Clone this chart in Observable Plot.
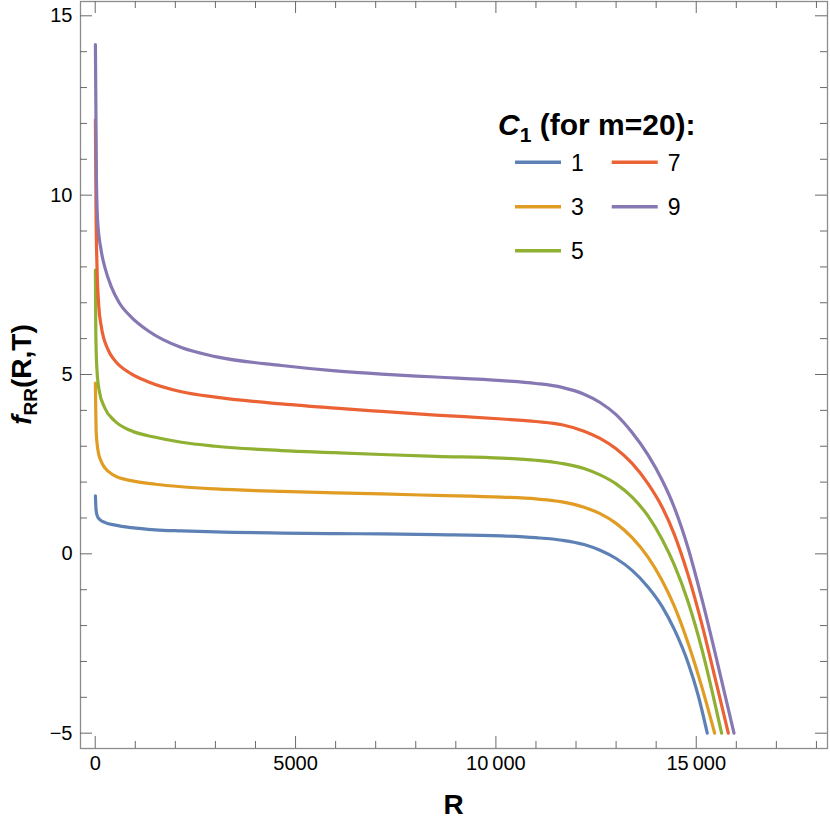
<!DOCTYPE html>
<html>
<head>
<meta charset="utf-8">
<script src="https://cdn.jsdelivr.net/npm/d3@7"></script>
<script src="https://cdn.jsdelivr.net/npm/@observablehq/plot@0.6"></script>
<style>
  html, body { margin: 0; padding: 0; background: #fff; }
  #chart { width: 830px; height: 824px; }
</style>
</head>
<body>
<div id="chart"></div>
<script>
// ---- data ----
const c1Values = [1, 3, 5, 7, 9];
const seriesColors = ["#5E81B5", "#E19C24", "#8FB032", "#EB6235", "#8778B3"];

const R_c1_1 = [5, 20, 45, 100, 250, 500, 900, 1500, 2150, 3000, 4650, 6000, 7150, 8500, 10150, 11000, 11650, 12200, 12600, 13000, 13400, 13800, 14150, 14450, 14800, 15050, 15275];
const F_c1_1 = [1.62, 1.25, 1.08, 0.97, 0.87, 0.80, 0.73, 0.67, 0.64, 0.61, 0.58, 0.565, 0.555, 0.535, 0.50, 0.45, 0.38, 0.26, 0.10, -0.13, -0.46, -0.93, -1.47, -2.1, -3.05, -3.95, -5.0];

const R_c1_3 = [5, 25, 70, 140, 233, 483, 900, 1500, 2150, 3000, 4650, 6000, 7150, 8500, 10150, 11000, 11650, 12200, 12600, 13000, 13400, 13800, 14150, 14450, 14800, 15150, 15460];
const F_c1_3 = [4.76, 3.4, 2.88, 2.6, 2.41, 2.18, 2.04, 1.94, 1.87, 1.81, 1.74, 1.70, 1.67, 1.63, 1.58, 1.53, 1.45, 1.3, 1.12, 0.85, 0.45, -0.1, -0.75, -1.45, -2.5, -3.75, -5.0];

const R_c1_5 = [5, 15, 40, 100, 233, 483, 900, 1500, 2150, 3000, 4650, 6000, 7150, 8500, 10150, 11000, 11650, 12200, 12600, 13000, 13400, 13800, 14150, 14450, 14800, 15150, 15400, 15633];
const F_c1_5 = [7.91, 6.2, 5.2, 4.55, 4.08, 3.71, 3.43, 3.25, 3.11, 3.0, 2.88, 2.82, 2.77, 2.72, 2.67, 2.61, 2.52, 2.38, 2.2, 1.95, 1.58, 1.05, 0.4, -0.3, -1.35, -2.7, -3.85, -5.0];

const R_c1_7 = [5, 20, 45, 90, 150, 317, 483, 900, 1317, 2150, 3000, 4650, 6000, 7150, 8500, 10150, 11000, 11650, 12200, 12600, 13000, 13400, 13800, 14150, 14450, 14800, 15150, 15500, 15800];
const F_c1_7 = [12.1, 9.6, 8.0, 6.9, 6.35, 5.7, 5.4, 5.02, 4.8, 4.52, 4.37, 4.18, 4.06, 3.97, 3.87, 3.76, 3.69, 3.6, 3.42, 3.22, 2.93, 2.52, 1.95, 1.3, 0.55, -0.6, -2.0, -3.6, -5.0];

const R_c1_9 = [5, 30, 60, 150, 250, 400, 600, 900, 1317, 2150, 3000, 4650, 6000, 7150, 8500, 10150, 11000, 11650, 12200, 12600, 13000, 13400, 13800, 14150, 14450, 14800, 15150, 15500, 15942];
const F_c1_9 = [14.2, 10.5, 9.3, 8.45, 7.95, 7.45, 7.0, 6.6, 6.22, 5.75, 5.5, 5.25, 5.1, 5.01, 4.93, 4.83, 4.75, 4.64, 4.45, 4.22, 3.88, 3.38, 2.75, 2.05, 1.3, 0.15, -1.3, -2.9, -5.0];

const xMajorTicks = [0, 5000, 10000, 15000];
const xMinorTicks = [1000, 2000, 3000, 4000, 6000, 7000, 8000, 9000, 11000, 12000, 13000, 14000, 16000, 17000, 18000];
const yMajorTicks = [-5, 0, 5, 10, 15];
const yMinorTicks = [-4, -3, -2, -1, 1, 2, 3, 4, 6, 7, 8, 9, 11, 12, 13, 14];

// ---- table built from the arrays ----
const seriesR = [R_c1_1, R_c1_3, R_c1_5, R_c1_7, R_c1_9];
const seriesF = [F_c1_1, F_c1_3, F_c1_5, F_c1_7, F_c1_9];
const rows = c1Values.flatMap((c, k) => seriesR[k].map((r, i) => ({c1: c, R: r, f: seriesF[k][i]})));

// ---- layout ----
const W = 830, H = 824;
const mL = 80, mR = 3, mT = 1, mB = 76;
const innerW = W - mL - mR, innerH = H - mT - mB;
const majorLen = 12, minorLen = 7;
const frameColor = "#8c8c8c", tickColor = "#6a6a6a";
const font = "'Liberation Sans', Arial, Helvetica, sans-serif";

const fmtX = d => Math.abs(d) >= 10000 ? d3.format(",")(d).replace(/,/g, "\u2009") : String(d);
const fmtY = d => d < 0 ? "\u2212" + Math.abs(d) : String(d);

const tickMarks = (vals, len, dim) => dim === "y" ? [
  Plot.tickY(vals, {y: d => d, insetRight: innerW - len, stroke: tickColor, strokeWidth: 1}),
  Plot.tickY(vals, {y: d => d, insetLeft: innerW - len, stroke: tickColor, strokeWidth: 1})
] : [
  Plot.tickX(vals, {x: d => d, insetTop: innerH - len, stroke: tickColor, strokeWidth: 1}),
  Plot.tickX(vals, {x: d => d, insetBottom: innerH - len, stroke: tickColor, strokeWidth: 1})
];

const svg = Plot.plot({
  width: W, height: H,
  marginLeft: mL, marginRight: mR, marginTop: mT, marginBottom: mB,
  x: {domain: [-367, 18276], label: null},
  y: {domain: [-5.427, 15.399], label: null},
  color: {domain: c1Values, range: seriesColors},
  style: {fontFamily: font, fontSize: "20px", color: "#000", background: "#fff"},
  marks: [
    Plot.line(rows, {x: "R", y: "f", z: "c1", stroke: "c1", strokeWidth: 3.2, curve: "monotone-x"}),
    Plot.frame({stroke: frameColor, strokeWidth: 1.3}),
    ...tickMarks(yMajorTicks, majorLen, "y"),
    ...tickMarks(yMinorTicks, minorLen, "y"),
    ...tickMarks(xMajorTicks, majorLen, "x"),
    ...tickMarks(xMinorTicks, minorLen, "x"),
    Plot.axisX({ticks: xMajorTicks, tickSize: 0, tickPadding: 7, tickFormat: fmtX, label: null, fontSize: 20}),
    Plot.axisY({ticks: yMajorTicks, tickSize: 0, tickPadding: 8, tickFormat: fmtY, label: null, fontSize: 20})
  ]
});

const s = d3.select(svg);

// x axis label
s.append("text")
  .attr("x", mL + innerW / 2).attr("y", 814)
  .attr("text-anchor", "middle")
  .style("font", `bold 28px ${font}`).attr("fill", "#000")
  .text("R");

// y axis label f_RR(R,T)
const yl = s.append("text")
  .attr("transform", `translate(31, ${mT + innerH / 2}) rotate(-90)`)
  .attr("text-anchor", "middle")
  .style("font", `bold 28px ${font}`).attr("fill", "#000");
yl.append("tspan").style("font-style", "italic").text("f");
yl.append("tspan").attr("dy", 6).style("font-size", "19px").text("RR");
yl.append("tspan").attr("dy", -6).text("(R,T)");

// legend
const lg = s.append("g").attr("fill", "#000").attr("text-anchor", "start");
const title = lg.append("text").attr("x", 498).attr("y", 135)
  .attr("text-anchor", "start")
  .style("font", `bold 30px ${font}`);
title.append("tspan").style("font-style", "italic").text("C");
title.append("tspan").attr("dy", 7).style("font-size", "21px").text("1");
title.append("tspan").attr("dy", -7).text(" (for m=20):");

const colX = [515, 611.7];
const rowY = [162.3, 206.7, 250.7];
c1Values.forEach((c, i) => {
  const col = Math.floor(i / 3), row = i % 3;
  const x0 = colX[col], y0 = rowY[row];
  lg.append("line").attr("x1", x0).attr("x2", x0 + 46).attr("y1", y0).attr("y2", y0)
    .attr("stroke", seriesColors[i]).attr("stroke-width", 3.4);
  lg.append("text").attr("x", x0 + 56).attr("y", y0 + 8.5)
    .attr("text-anchor", "start")
    .style("font", `23px ${font}`).text(String(c));
});

document.getElementById("chart").appendChild(svg);
</script>
</body>
</html>
